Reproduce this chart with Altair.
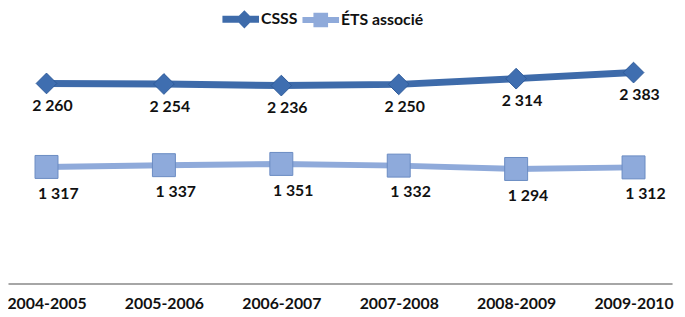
import altair as alt
import pandas as pd

years = ["2004-2005", "2005-2006", "2006-2007", "2007-2008", "2008-2009", "2009-2010"]
csss = [2260, 2254, 2236, 2250, 2314, 2383]
ets = [1317, 1337, 1351, 1332, 1294, 1312]
series = ["CSSS", "ÉTS associé"]
colors = ["#3E6BAA", "#8FAADA"]

rows = []
for name, vals in zip(series, [csss, ets]):
    for yr, v in zip(years, vals):
        rows.append({"year": yr, "series": name, "value": v,
                     "label": f"{v:,}".replace(",", " ")})
df = pd.DataFrame(rows)

FONT = "Lato"
W, H = 672, 224

# legend glyphs: line segment with marker, in unit symbol coordinates
p_csss = "M-1,-0.19L1,-0.19L1,0.19L-1,0.19Z M-0.29,0L0.2,-0.5L0.69,0L0.2,0.5Z"
p_ets = "M-1,-0.16L1,-0.16L1,0.16L-1,0.16Z M-0.4,-0.4L0.4,-0.4L0.4,0.4L-0.4,0.4Z"

legend = alt.Legend(
    title=None, orient="none", legendX=217, legendY=-62, direction="horizontal",
    symbolSize=1369, labelFont=FONT, labelFontSize=16, labelFontWeight="bold",
    labelColor="#111111", labelOffset=2, columnPadding=5, padding=0,
    symbolOpacity=1, symbolStrokeWidth=0,
)

x = alt.X("year:N", sort=years, scale=alt.Scale(type="point", padding=0.328),
          axis=alt.Axis(title=None, labelAngle=0, ticks=False, grid=False,
                        labelFont=FONT, labelFontWeight="bold", labelFontSize=16,
                        labelColor="#111111", domainColor="#A6A6A6", domainWidth=2,
                        labelPadding=12))
y = alt.Y("value:Q", scale=alt.Scale(domain=[0, 2500], nice=False), axis=None)

color_scale = alt.Scale(domain=series, range=colors)
base = alt.Chart(df)
c_data = base.transform_filter(alt.datum.series == series[0])
e_data = base.transform_filter(alt.datum.series == series[1])

legend_layer = base.mark_point(filled=True, opacity=0).encode(
    x=x, y=y,
    color=alt.Color("series:N", sort=series, scale=color_scale, legend=legend),
    shape=alt.Shape("series:N", sort=series,
                    scale=alt.Scale(domain=series, range=[p_csss, p_ets]), legend=legend),
)

line_c = c_data.mark_line(strokeWidth=7, color=colors[0]).encode(x=x, y=y)
line_e = e_data.mark_line(strokeWidth=6, color=colors[1]).encode(x=x, y=y)

pts_c = c_data.mark_point(
    shape="diamond", size=440, filled=True, fill="#3F6EB0", stroke="#2E5A99",
    strokeWidth=1, opacity=1).encode(x=x, y=y)
pts_e = e_data.mark_point(
    shape="square", size=540, filled=True, fill="#8EAADB", stroke="#6A8BC2",
    strokeWidth=1, opacity=1).encode(x=x, y=y)

txt_c = c_data.mark_text(
    dx=6, dy=23, font=FONT, fontSize=16, fontWeight="bold", color="#111111"
).encode(x=x, y=y, text="label:N")
txt_e = e_data.mark_text(
    dx=12, dy=27, font=FONT, fontSize=16, fontWeight="bold", color="#111111"
).encode(x=x, y=y, text="label:N")

chart = alt.layer(legend_layer, line_c, line_e, pts_c, pts_e, txt_c, txt_e).properties(
    width=W, height=H,
    autosize=alt.AutoSizeParams(type="none"),
    padding={"left": 0, "top": 53, "right": 5, "bottom": 32},
).configure_view(stroke=None)

chart.save("out.html", embed_options={"renderer": "svg", "actions": False})
